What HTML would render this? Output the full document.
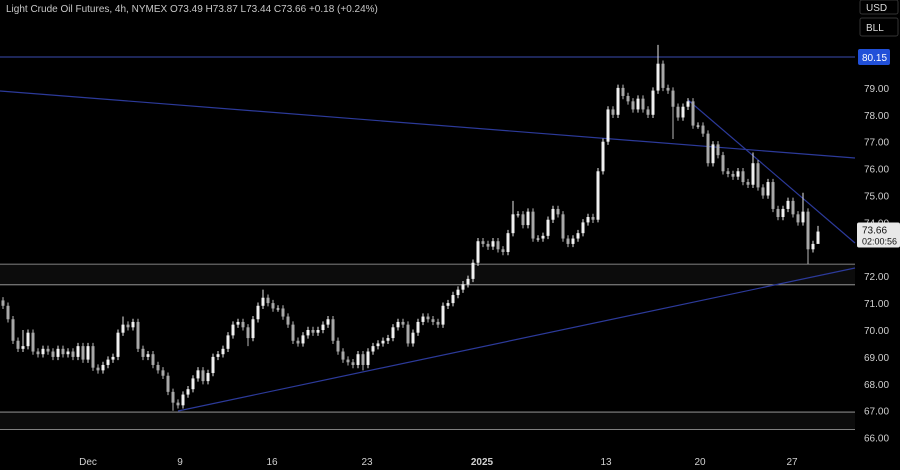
<!DOCTYPE html>
<html><head><meta charset="utf-8"><style>
body{margin:0;background:#000;width:900px;height:470px;overflow:hidden;font-family:"Liberation Sans",sans-serif}
svg{display:block}
</style></head><body>
<svg id="chart" width="900" height="470" xmlns="http://www.w3.org/2000/svg">
<rect x="0" y="0" width="900" height="470" fill="#000"/>
<g id="zones"></g><g id="lines"></g><g id="candles"></g><g id="axis"></g>
<text x="6" y="12" fill="#c8c8c8" font-size="10">Light Crude Oil Futures, 4h, NYMEX  O73.49  H73.87  L73.44  C73.66  +0.18 (+0.24%)</text>
<g><rect x="860" y="0" width="38" height="14" fill="#000" stroke="#333" rx="2"/><text x="866" y="11" fill="#ddd" font-size="10">USD</text></g>
<g><rect x="860" y="18" width="38" height="18" fill="#000" stroke="#333" rx="2"/><text x="866" y="31" fill="#ddd" font-size="10">BLL</text></g>
</svg>
<script>
const closes=[70.9,70.4,69.6,69.3,69.4,69.9,69.2,69.1,69.3,69.2,
69.0,69.3,69.1,69.2,69.0,69.4,68.9,69.4,68.6,68.5,
68.7,68.9,69.0,69.9,70.2,70.1,70.3,69.3,69.0,69.1,
68.7,68.5,68.3,67.7,67.3,67.2,67.6,67.8,68.2,68.5,
68.1,68.4,69.0,69.1,69.3,69.8,70.2,70.3,70.1,69.7,
70.4,70.9,71.2,71.0,70.8,70.8,70.5,70.2,69.6,69.5,
69.8,70.0,69.9,70.0,70.2,70.4,69.6,69.2,68.9,68.8,
68.7,69.1,68.7,69.2,69.4,69.5,69.6,69.7,70.1,70.3,
70.2,69.5,69.9,70.3,70.5,70.4,70.3,70.2,70.9,71.0,
71.3,71.5,71.7,71.9,72.5,73.3,73.2,73.1,73.3,73.0,
72.9,73.6,74.3,74.3,73.9,74.4,73.4,73.4,73.5,74.1,
74.5,74.3,73.4,73.2,73.4,73.6,74.0,74.2,74.1,75.9,
77.0,78.2,78.0,79.0,78.7,78.5,78.2,78.6,78.2,78.0,
78.9,79.9,79.0,78.9,78.3,77.9,78.3,78.5,77.6,77.6,
77.3,76.2,76.9,76.5,75.9,75.8,75.7,75.9,75.5,75.4,
76.2,75.3,75.0,75.5,74.5,74.2,74.5,74.8,74.3,74.0,
74.4,73.0,73.2,73.66];
const firstOpen=71.1;
const spikeHighIdx=[131,150,160,163,4,24,52,102];
const spikeHighVal=[80.6,76.6,75.1,73.87,70.0,70.5,71.5,74.8];
const spikeLowIdx=[161,134,34,49,163,72,119];
const spikeLowVal=[72.45,77.1,67.0,69.4,73.44,68.5,74.0];
const yTicks=[79,78,77,76,75,74,72,71,70,69,68,67,66];
const xLabels=["Dec","9","16","23","2025","13","20","27"];
const xLabelIdx=[17,35.4,53.8,72.8,95.8,120.6,139.4,157.8];
const hLevels=[80.15];
const zoneTop=[72.45,66.95], zoneBot=[71.68,66.3];

const NS="http://www.w3.org/2000/svg";
const y=p=>61+(80-p)*26.9;
const x=i=>3+5*i;
function mk(tag,attrs,parent){const e=document.createElementNS(NS,tag);for(const k in attrs)e.setAttribute(k,attrs[k]);document.getElementById(parent).appendChild(e);return e;}
zoneTop.forEach((t,k)=>{
 const r=mk('rect',{x:0,y:y(t),width:855,height:y(zoneBot[k])-y(t),fill:'#0c0c0c'},'zones');
 
 
 [t,zoneBot[k]].forEach(v=>{
  const l=mk('line',{x1:0,x2:855,y1:y(v),y2:y(v),stroke:'#aaa','stroke-width':0.8},'zones');
  
  
 });
});
hLevels.forEach(h=>{
 const l=mk('line',{x1:0,x2:855,y1:y(h),y2:y(h),stroke:'#3a4db0','stroke-width':1},'lines');
 
 
});
[[0,91,855,158,'long-trendline'],[688,100,855,243,'down-trendline'],[178,411,855,268,'up-trendline']].forEach(s=>{
 const l=mk('line',{x1:s[0],y1:s[1],x2:s[2],y2:s[3],stroke:'#2c3a9a','stroke-width':1.2},'lines');
 
 
});
closes.forEach((c,i)=>{
 const o=i?closes[i-1]:firstOpen;
 let hi=Math.max(o,c)+0.12, lo=Math.min(o,c)-0.12;
 const a=spikeHighIdx.indexOf(i); if(a>=0)hi=spikeHighVal[a];
 const b=spikeLowIdx.indexOf(i); if(b>=0)lo=spikeLowVal[b];
 const g=mk('g',{},'candles');
 
 
 const cx=x(i);
 const w=document.createElementNS(NS,'line');
 w.setAttribute('x1',cx);w.setAttribute('x2',cx);w.setAttribute('y1',y(hi));w.setAttribute('y2',y(lo));w.setAttribute('stroke',c>=o?'#e6e6e6':'#b8b8b8');w.setAttribute('stroke-width',1);g.appendChild(w);
 const r=document.createElementNS(NS,'rect');
 const top=y(Math.max(o,c)),bh=Math.max(1,y(Math.min(o,c))-top);
 r.setAttribute('x',cx-1.5);r.setAttribute('y',top);r.setAttribute('width',3);r.setAttribute('height',bh);r.setAttribute('fill',c>=o?'#f0f0f0':'#a8a8a8');g.appendChild(r);
});
yTicks.forEach(t=>{
 const e=mk('text',{x:864,y:y(t)+4,fill:'#d0d0d0','font-size':10},'axis');
 
 
 e.textContent=t.toFixed(2);
});
xLabels.forEach((t,k)=>{
 const e=mk('text',{x:x(xLabelIdx[k]),y:465,fill:'#d0d0d0','font-size':10,'text-anchor':'middle','font-weight':t==='2025'?'bold':'normal'},'axis');
 
 
 e.textContent=t;
});
const bb=mk('rect',{x:858,y:y(80.15)-8,width:32,height:16,fill:'#2150d8',rx:2},'axis');


const bt=mk('text',{x:862,y:y(80.15)+4,fill:'#fff','font-size':10},'axis');


bt.textContent='80.15';
const last=closes[closes.length-1];
const pb=mk('rect',{x:857,y:y(last)-9,width:43,height:25,fill:'#e8e8e8',rx:2},'axis');


const pt=mk('text',{x:862,y:y(last)+2,fill:'#111','font-size':10},'axis');


pt.textContent=last.toFixed(2);
const ct=mk('text',{x:862,y:y(last)+13,fill:'#111','font-size':9},'axis');


ct.textContent='02:00:56';
</script>
</body></html>
